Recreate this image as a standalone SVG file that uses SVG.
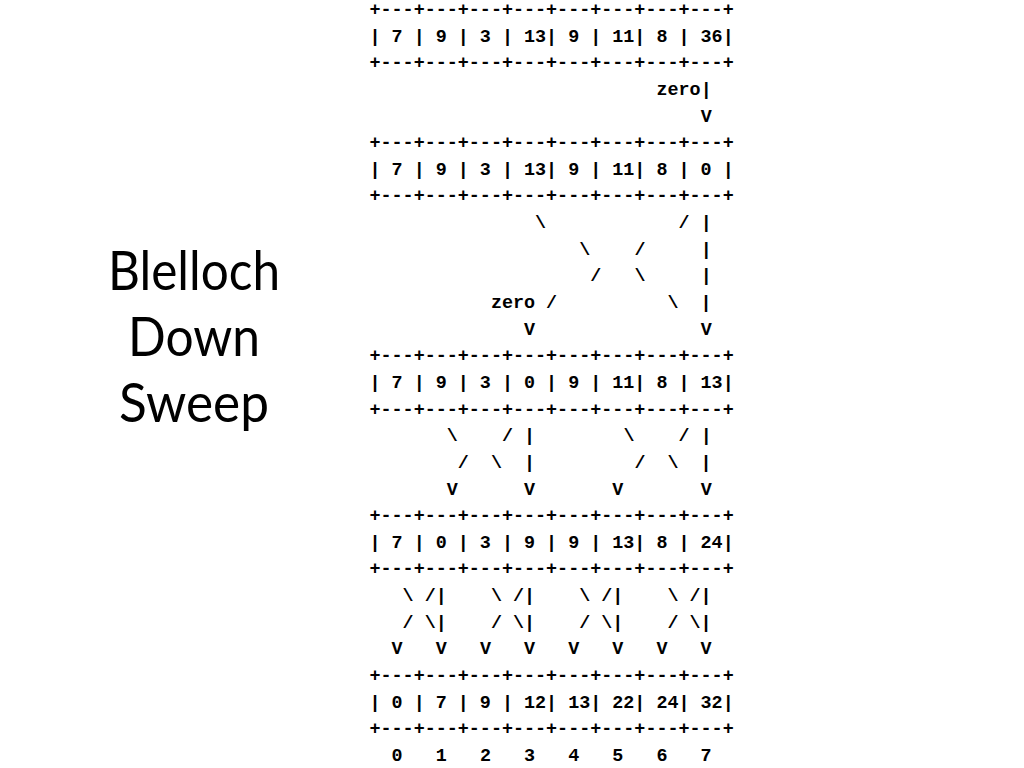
<svg xmlns="http://www.w3.org/2000/svg" width="1024" height="768" viewBox="0 0 1024 768">
<style>
.t{font-family:Lato,"Liberation Sans",sans-serif;font-size:54px;fill:#000;text-anchor:middle}
.m{font-family:"Liberation Mono","Courier New",monospace;font-size:18.4px;font-weight:bold;fill:#000}
</style>
<rect width="1024" height="768" fill="#fff"/>
<g id="title">
<text class="t" x="194" y="290" textLength="172" lengthAdjust="spacingAndGlyphs">Blelloch</text>
<text class="t" x="194" y="356" textLength="132" lengthAdjust="spacingAndGlyphs">Down</text>
<text class="t" x="194" y="422" textLength="150" lengthAdjust="spacingAndGlyphs">Sweep</text>
</g>
<g id="array0" class="m">
<text x="369.5" y="15">+---+---+---+---+---+---+---+---+</text>
<text x="369.5" y="41.64">|&#160;7&#160;|&#160;9&#160;|&#160;3&#160;|&#160;13|&#160;9&#160;|&#160;11|&#160;8&#160;|&#160;36|</text>
<text x="369.5" y="68.28">+---+---+---+---+---+---+---+---+</text>
</g>
<g id="array1" class="m">
<text x="369.5" y="148.2">+---+---+---+---+---+---+---+---+</text>
<text x="369.5" y="174.84">|&#160;7&#160;|&#160;9&#160;|&#160;3&#160;|&#160;13|&#160;9&#160;|&#160;11|&#160;8&#160;|&#160;0&#160;|</text>
<text x="369.5" y="201.48">+---+---+---+---+---+---+---+---+</text>
</g>
<g id="array2" class="m">
<text x="369.5" y="361.32">+---+---+---+---+---+---+---+---+</text>
<text x="369.5" y="387.96">|&#160;7&#160;|&#160;9&#160;|&#160;3&#160;|&#160;0&#160;|&#160;9&#160;|&#160;11|&#160;8&#160;|&#160;13|</text>
<text x="369.5" y="414.6">+---+---+---+---+---+---+---+---+</text>
</g>
<g id="array3" class="m">
<text x="369.5" y="521.16">+---+---+---+---+---+---+---+---+</text>
<text x="369.5" y="547.8">|&#160;7&#160;|&#160;0&#160;|&#160;3&#160;|&#160;9&#160;|&#160;9&#160;|&#160;13|&#160;8&#160;|&#160;24|</text>
<text x="369.5" y="574.44">+---+---+---+---+---+---+---+---+</text>
</g>
<g id="array4" class="m">
<text x="369.5" y="681">+---+---+---+---+---+---+---+---+</text>
<text x="369.5" y="707.64">|&#160;0&#160;|&#160;7&#160;|&#160;9&#160;|&#160;12|&#160;13|&#160;22|&#160;24|&#160;32|</text>
<text x="369.5" y="734.28">+---+---+---+---+---+---+---+---+</text>
</g>
<g id="indices" class="m">
<text x="391.6" y="760.92">0&#160;&#160;&#160;1&#160;&#160;&#160;2&#160;&#160;&#160;3&#160;&#160;&#160;4&#160;&#160;&#160;5&#160;&#160;&#160;6&#160;&#160;&#160;7</text>
</g>
<g id="connectors" class="m">
<text x="656.5" y="94.92">zero|</text>
<text x="700.7" y="121.56">V</text>
<text x="535.1" y="228.12">\&#160;&#160;&#160;&#160;&#160;&#160;&#160;&#160;&#160;&#160;&#160;&#160;/&#160;|</text>
<text x="579.3" y="254.76">\&#160;&#160;&#160;&#160;/&#160;&#160;&#160;&#160;&#160;|</text>
<text x="590.3" y="281.4">/&#160;&#160;&#160;\&#160;&#160;&#160;&#160;&#160;|</text>
<text x="490.9" y="308.04">zero&#160;/&#160;&#160;&#160;&#160;&#160;&#160;&#160;&#160;&#160;&#160;\&#160;&#160;|</text>
<text x="524.1" y="334.68">V&#160;&#160;&#160;&#160;&#160;&#160;&#160;&#160;&#160;&#160;&#160;&#160;&#160;&#160;&#160;V</text>
<text x="446.8" y="441.24">\&#160;&#160;&#160;&#160;/&#160;|&#160;&#160;&#160;&#160;&#160;&#160;&#160;&#160;\&#160;&#160;&#160;&#160;/&#160;|</text>
<text x="457.8" y="467.88">/&#160;&#160;\&#160;&#160;|&#160;&#160;&#160;&#160;&#160;&#160;&#160;&#160;&#160;/&#160;&#160;\&#160;&#160;|</text>
<text x="446.8" y="494.52">V&#160;&#160;&#160;&#160;&#160;&#160;V&#160;&#160;&#160;&#160;&#160;&#160;&#160;V&#160;&#160;&#160;&#160;&#160;&#160;&#160;V</text>
<text x="402.6" y="601.08">\&#160;/|&#160;&#160;&#160;&#160;\&#160;/|&#160;&#160;&#160;&#160;\&#160;/|&#160;&#160;&#160;&#160;\&#160;/|</text>
<text x="402.6" y="627.72">/&#160;\|&#160;&#160;&#160;&#160;/&#160;\|&#160;&#160;&#160;&#160;/&#160;\|&#160;&#160;&#160;&#160;/&#160;\|</text>
<text x="391.6" y="654.36">V&#160;&#160;&#160;V&#160;&#160;&#160;V&#160;&#160;&#160;V&#160;&#160;&#160;V&#160;&#160;&#160;V&#160;&#160;&#160;V&#160;&#160;&#160;V</text>
</g>
</svg>
